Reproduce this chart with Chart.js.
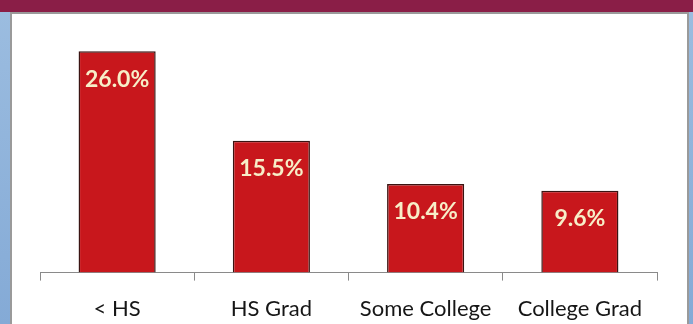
<!DOCTYPE html>
<html>
<head>
<meta charset="utf-8">
<script src="https://cdn.jsdelivr.net/npm/chart.js@4/dist/chart.umd.min.js"></script>
<style>
  html, body { margin: 0; padding: 0; }
  body { width: 693px; height: 324px; position: relative; overflow: hidden;
         background: linear-gradient(180deg, #9cbde0 0%, #84aad6 100%); }
  #panel { position: absolute; left: 10px; top: 12px; width: 675px; height: 320px;
           background: #ffffff; border-left: 2px solid #9a9a9a; border-top: 2px solid #9a9a9a;
           border-right: 2px solid #9a9a9a; }
  #topbar { position: absolute; left: 0; top: 0; width: 693px; height: 12px; background: #8a1e47; }
  #wrap { position: absolute; left: 0; top: 0; width: 693px; height: 343px; }
</style>
</head>
<body>
<div id="topbar"></div>
<div id="panel"></div>
<div id="wrap"><canvas id="c" width="693" height="343"></canvas></div>
<script>
// Education levels and the share of each group
const categories = ['< HS', 'HS Grad', 'Some College', 'College Grad'];
const rates = [26.0, 15.5, 10.4, 9.6];

// Writes each bar's value in light text near the top of the bar
const valueLabels = {
  id: 'valueLabels',
  afterDatasetsDraw(chart) {
    const ctx = chart.ctx;
    const meta = chart.getDatasetMeta(0);
    ctx.save();
    ctx.font = 'bold 23px Lato, "Open Sans", sans-serif';
    ctx.fillStyle = '#f7eec8';
    ctx.textAlign = 'center';
    ctx.textBaseline = 'middle';
    meta.data.forEach((bar, i) => {
      ctx.fillText(rates[i].toFixed(1) + '%', bar.x, bar.y + 28);
    });
    ctx.restore();
  }
};

new Chart(document.getElementById('c'), {
  type: 'bar',
  data: {
    labels: categories,
    datasets: [{
      data: rates,
      backgroundColor: '#c8171c',
      borderColor: '#3a1412',
      borderWidth: 1.5,
      barPercentage: 0.5,
      categoryPercentage: 1.0
    }]
  },
  options: {
    responsive: false,
    animation: false,
    layout: { padding: { left: 40, right: 36, top: 24, bottom: 6 } },
    plugins: { legend: { display: false }, tooltip: { enabled: false } },
    scales: {
      y: { display: false, min: 0, max: 29.2 },
      x: {
        grid: { display: true, drawOnChartArea: false, drawTicks: true, tickLength: 8,
                color: '#8a8a8a', lineWidth: 1 },
        border: { display: true, color: '#8a8a8a', width: 1 },
        ticks: { color: '#161616', padding: 15,
                 font: { family: 'Lato, "Open Sans", sans-serif', size: 22 } }
      }
    }
  },
  plugins: [valueLabels]
});
</script>
</body>
</html>
